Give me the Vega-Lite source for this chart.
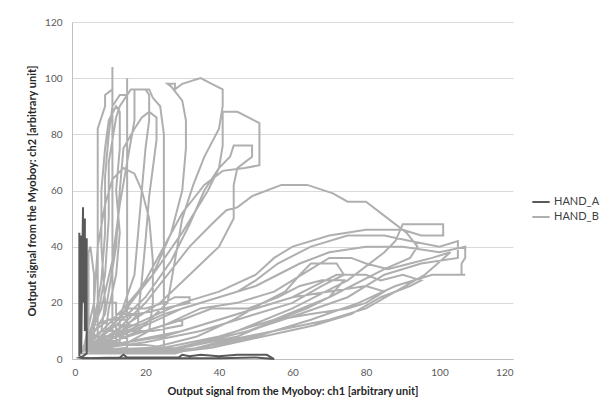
{
  "$schema": "https://vega.github.io/schema/vega-lite/v6.json",
  "width": 441,
  "height": 337,
  "autosize": {"type": "none"},
  "padding": {"left": 72, "top": 22, "right": 92, "bottom": 49},
  "background": "white",
  "config": {
    "view": {"stroke": null},
    "font": "Lato",
    "axis": {"labelFont": "Lato", "titleFont": "Lato", "labelColor": "#595959", "titleColor": "#262626", "labelFontSize": 10, "titleFontSize": 11, "titleFontWeight": "bold", "ticks": false, "domainColor": "#bfbfbf", "gridColor": "#d9d9d9"},
    "legend": {"labelFont": "Lato", "labelFontSize": 11, "labelColor": "#404040"}
  },
  "data": {"values": [
    {"s":"HAND_A","x":2,"y":1},{"s":"HAND_A","x":2,"y":45},{"s":"HAND_A","x":2,"y":5},{"s":"HAND_A","x":2.5,"y":44},{"s":"HAND_A","x":2.5,"y":2},{"s":"HAND_A","x":3,"y":54},{"s":"HAND_A","x":3,"y":20},{"s":"HAND_A","x":3,"y":48},{"s":"HAND_A","x":3.5,"y":50},{"s":"HAND_A","x":3.5,"y":10},{"s":"HAND_A","x":4,"y":43},{"s":"HAND_A","x":4,"y":36},{"s":"HAND_A","x":4,"y":2},{"s":"HAND_A","x":3,"y":1},{"s":"HAND_A","x":2,"y":0.5},{"s":"HAND_A","x":3,"y":0.3},{"s":"HAND_A","x":13,"y":0.5},{"s":"HAND_A","x":14,"y":1.5},{"s":"HAND_A","x":15,"y":0.5},{"s":"HAND_A","x":29,"y":0.5},{"s":"HAND_A","x":30,"y":1.5},{"s":"HAND_A","x":32,"y":1},{"s":"HAND_A","x":35,"y":1.5},{"s":"HAND_A","x":40,"y":1},{"s":"HAND_A","x":45,"y":1.5},{"s":"HAND_A","x":50,"y":1.5},{"s":"HAND_A","x":53,"y":1.5},{"s":"HAND_A","x":55,"y":0},{"s":"HAND_A","x":50,"y":0.5},{"s":"HAND_A","x":40,"y":0.3},{"s":"HAND_A","x":30,"y":0.3},{"s":"HAND_A","x":20,"y":0.3},{"s":"HAND_A","x":5,"y":0.3},{"s":"HAND_A","x":2,"y":0.5},

    {"s":"HAND_B","x":3,"y":3},{"s":"HAND_B","x":5,"y":10},{"s":"HAND_B","x":7,"y":20},{"s":"HAND_B","x":7,"y":50},{"s":"HAND_B","x":7,"y":82},{"s":"HAND_B","x":9,"y":90},{"s":"HAND_B","x":9,"y":94},{"s":"HAND_B","x":11,"y":96},{"s":"HAND_B","x":11,"y":104},{"s":"HAND_B","x":11,"y":92},{"s":"HAND_B","x":11,"y":70},{"s":"HAND_B","x":11,"y":50},{"s":"HAND_B","x":11,"y":30},{"s":"HAND_B","x":11,"y":12},{"s":"HAND_B","x":11,"y":4},{"s":"HAND_B","x":6,"y":3},
    {"s":"HAND_B","x":3,"y":3},{"s":"HAND_B","x":6,"y":12},{"s":"HAND_B","x":8,"y":28},{"s":"HAND_B","x":9,"y":45},{"s":"HAND_B","x":9,"y":65},{"s":"HAND_B","x":10,"y":80},{"s":"HAND_B","x":11,"y":90},{"s":"HAND_B","x":13,"y":94},{"s":"HAND_B","x":15,"y":94},{"s":"HAND_B","x":15,"y":100},{"s":"HAND_B","x":15,"y":92},{"s":"HAND_B","x":15,"y":70},{"s":"HAND_B","x":15,"y":50},{"s":"HAND_B","x":15,"y":30},{"s":"HAND_B","x":15,"y":12},{"s":"HAND_B","x":15,"y":4},{"s":"HAND_B","x":8,"y":3},
    {"s":"HAND_B","x":3,"y":3},{"s":"HAND_B","x":7,"y":15},{"s":"HAND_B","x":9,"y":30},{"s":"HAND_B","x":10,"y":50},{"s":"HAND_B","x":10,"y":70},{"s":"HAND_B","x":12,"y":86},{"s":"HAND_B","x":13,"y":90},{"s":"HAND_B","x":16,"y":96},{"s":"HAND_B","x":21,"y":96},{"s":"HAND_B","x":22,"y":93},{"s":"HAND_B","x":24,"y":90},{"s":"HAND_B","x":25,"y":80},{"s":"HAND_B","x":25,"y":65},{"s":"HAND_B","x":25,"y":45},{"s":"HAND_B","x":25,"y":30},{"s":"HAND_B","x":25,"y":15},{"s":"HAND_B","x":25,"y":4},{"s":"HAND_B","x":15,"y":3},
    {"s":"HAND_B","x":3,"y":3},{"s":"HAND_B","x":8,"y":18},{"s":"HAND_B","x":11,"y":35},{"s":"HAND_B","x":13,"y":55},{"s":"HAND_B","x":15,"y":70},{"s":"HAND_B","x":17,"y":85},{"s":"HAND_B","x":17,"y":96},{"s":"HAND_B","x":20,"y":96},{"s":"HAND_B","x":21,"y":94},{"s":"HAND_B","x":21,"y":85},{"s":"HAND_B","x":20,"y":75},{"s":"HAND_B","x":19,"y":60},{"s":"HAND_B","x":18,"y":45},{"s":"HAND_B","x":17,"y":30},{"s":"HAND_B","x":13,"y":15},{"s":"HAND_B","x":13,"y":6},{"s":"HAND_B","x":8,"y":4},
    {"s":"HAND_B","x":3,"y":3},{"s":"HAND_B","x":6,"y":20},{"s":"HAND_B","x":7,"y":40},{"s":"HAND_B","x":9,"y":55},{"s":"HAND_B","x":11,"y":64},{"s":"HAND_B","x":14,"y":68},{"s":"HAND_B","x":17,"y":66},{"s":"HAND_B","x":19,"y":60},{"s":"HAND_B","x":21,"y":50},{"s":"HAND_B","x":22,"y":35},{"s":"HAND_B","x":22,"y":20},{"s":"HAND_B","x":21,"y":10},{"s":"HAND_B","x":14,"y":5},{"s":"HAND_B","x":5,"y":3},
    {"s":"HAND_B","x":3,"y":3},{"s":"HAND_B","x":9,"y":16},{"s":"HAND_B","x":12,"y":40},{"s":"HAND_B","x":13,"y":60},{"s":"HAND_B","x":14,"y":75},{"s":"HAND_B","x":17,"y":82},{"s":"HAND_B","x":19,"y":86},{"s":"HAND_B","x":21,"y":88},{"s":"HAND_B","x":23,"y":86},{"s":"HAND_B","x":23,"y":78},{"s":"HAND_B","x":22,"y":68},{"s":"HAND_B","x":21,"y":58},{"s":"HAND_B","x":20,"y":42},{"s":"HAND_B","x":19,"y":28},{"s":"HAND_B","x":18,"y":16},{"s":"HAND_B","x":12,"y":8},
    {"s":"HAND_B","x":3,"y":3},{"s":"HAND_B","x":8,"y":10},{"s":"HAND_B","x":9,"y":20},{"s":"HAND_B","x":8,"y":40},{"s":"HAND_B","x":8,"y":60},{"s":"HAND_B","x":9,"y":75},{"s":"HAND_B","x":10,"y":85},{"s":"HAND_B","x":12,"y":90},{"s":"HAND_B","x":13,"y":88},{"s":"HAND_B","x":13,"y":75},{"s":"HAND_B","x":12,"y":60},{"s":"HAND_B","x":13,"y":45},{"s":"HAND_B","x":12,"y":30},{"s":"HAND_B","x":10,"y":18},{"s":"HAND_B","x":9,"y":8},
    {"s":"HAND_B","x":3,"y":3},{"s":"HAND_B","x":4.5,"y":10},{"s":"HAND_B","x":4.5,"y":38},{"s":"HAND_B","x":5,"y":40},{"s":"HAND_B","x":6,"y":30},{"s":"HAND_B","x":6,"y":8},
    {"s":"HAND_B","x":3,"y":3},{"s":"HAND_B","x":10,"y":10},{"s":"HAND_B","x":16,"y":20},{"s":"HAND_B","x":22,"y":30},{"s":"HAND_B","x":27,"y":45},{"s":"HAND_B","x":30,"y":60},{"s":"HAND_B","x":31,"y":75},{"s":"HAND_B","x":31,"y":85},{"s":"HAND_B","x":30,"y":92},{"s":"HAND_B","x":27,"y":97},{"s":"HAND_B","x":26,"y":98},{"s":"HAND_B","x":28,"y":98},{"s":"HAND_B","x":28,"y":96},{"s":"HAND_B","x":30,"y":98},{"s":"HAND_B","x":35,"y":100},{"s":"HAND_B","x":38,"y":98},{"s":"HAND_B","x":41,"y":96},{"s":"HAND_B","x":41,"y":90},{"s":"HAND_B","x":40,"y":82},{"s":"HAND_B","x":36,"y":72},{"s":"HAND_B","x":33,"y":62},{"s":"HAND_B","x":30,"y":50},{"s":"HAND_B","x":28,"y":35},{"s":"HAND_B","x":26,"y":20},{"s":"HAND_B","x":18,"y":10},{"s":"HAND_B","x":8,"y":4},
    {"s":"HAND_B","x":3,"y":3},{"s":"HAND_B","x":12,"y":12},{"s":"HAND_B","x":20,"y":22},{"s":"HAND_B","x":27,"y":35},{"s":"HAND_B","x":32,"y":48},{"s":"HAND_B","x":36,"y":60},{"s":"HAND_B","x":40,"y":68},{"s":"HAND_B","x":41,"y":76},{"s":"HAND_B","x":41,"y":86},{"s":"HAND_B","x":41,"y":88},{"s":"HAND_B","x":45,"y":88},{"s":"HAND_B","x":48,"y":86},{"s":"HAND_B","x":51,"y":84},{"s":"HAND_B","x":51,"y":69},{"s":"HAND_B","x":47,"y":68},{"s":"HAND_B","x":41,"y":67},{"s":"HAND_B","x":36,"y":62},{"s":"HAND_B","x":30,"y":52},{"s":"HAND_B","x":25,"y":40},{"s":"HAND_B","x":20,"y":28},{"s":"HAND_B","x":14,"y":16},{"s":"HAND_B","x":6,"y":6},
    {"s":"HAND_B","x":3,"y":3},{"s":"HAND_B","x":14,"y":18},{"s":"HAND_B","x":22,"y":30},{"s":"HAND_B","x":30,"y":45},{"s":"HAND_B","x":37,"y":60},{"s":"HAND_B","x":40,"y":68},{"s":"HAND_B","x":43,"y":72},{"s":"HAND_B","x":44,"y":76},{"s":"HAND_B","x":49,"y":76},{"s":"HAND_B","x":49,"y":72},{"s":"HAND_B","x":47,"y":70},{"s":"HAND_B","x":45,"y":68},{"s":"HAND_B","x":44,"y":62},{"s":"HAND_B","x":44,"y":50},{"s":"HAND_B","x":40,"y":40},{"s":"HAND_B","x":32,"y":30},{"s":"HAND_B","x":24,"y":20},{"s":"HAND_B","x":12,"y":10},
    {"s":"HAND_B","x":3,"y":3},{"s":"HAND_B","x":12,"y":10},{"s":"HAND_B","x":20,"y":20},{"s":"HAND_B","x":26,"y":30},{"s":"HAND_B","x":32,"y":40},{"s":"HAND_B","x":38,"y":48},{"s":"HAND_B","x":42,"y":53},{"s":"HAND_B","x":45,"y":54},{"s":"HAND_B","x":49,"y":58},{"s":"HAND_B","x":53,"y":60},{"s":"HAND_B","x":57,"y":62},{"s":"HAND_B","x":64,"y":62},{"s":"HAND_B","x":71,"y":59},{"s":"HAND_B","x":75,"y":56},{"s":"HAND_B","x":80,"y":56},{"s":"HAND_B","x":86,"y":50},{"s":"HAND_B","x":91,"y":45},{"s":"HAND_B","x":94,"y":40},{"s":"HAND_B","x":92,"y":36},{"s":"HAND_B","x":85,"y":32},{"s":"HAND_B","x":70,"y":22},{"s":"HAND_B","x":55,"y":14},{"s":"HAND_B","x":40,"y":8},{"s":"HAND_B","x":25,"y":4},{"s":"HAND_B","x":10,"y":2},
    {"s":"HAND_B","x":3,"y":3},{"s":"HAND_B","x":10,"y":8},{"s":"HAND_B","x":20,"y":14},{"s":"HAND_B","x":30,"y":20},{"s":"HAND_B","x":40,"y":24},{"s":"HAND_B","x":50,"y":30},{"s":"HAND_B","x":55,"y":36},{"s":"HAND_B","x":60,"y":40},{"s":"HAND_B","x":70,"y":44},{"s":"HAND_B","x":80,"y":46},{"s":"HAND_B","x":90,"y":46},{"s":"HAND_B","x":95,"y":44},{"s":"HAND_B","x":101,"y":44},{"s":"HAND_B","x":101,"y":48},{"s":"HAND_B","x":90,"y":48},{"s":"HAND_B","x":88,"y":42},{"s":"HAND_B","x":85,"y":38},{"s":"HAND_B","x":75,"y":28},{"s":"HAND_B","x":60,"y":18},{"s":"HAND_B","x":45,"y":10},{"s":"HAND_B","x":30,"y":4},{"s":"HAND_B","x":15,"y":2},
    {"s":"HAND_B","x":3,"y":3},{"s":"HAND_B","x":15,"y":10},{"s":"HAND_B","x":25,"y":16},{"s":"HAND_B","x":35,"y":20},{"s":"HAND_B","x":45,"y":24},{"s":"HAND_B","x":50,"y":28},{"s":"HAND_B","x":56,"y":34},{"s":"HAND_B","x":65,"y":40},{"s":"HAND_B","x":75,"y":44},{"s":"HAND_B","x":85,"y":44},{"s":"HAND_B","x":92,"y":42},{"s":"HAND_B","x":100,"y":40},{"s":"HAND_B","x":105,"y":42},{"s":"HAND_B","x":105,"y":36},{"s":"HAND_B","x":95,"y":34},{"s":"HAND_B","x":85,"y":30},{"s":"HAND_B","x":75,"y":22},{"s":"HAND_B","x":62,"y":16},{"s":"HAND_B","x":48,"y":10},{"s":"HAND_B","x":35,"y":6},{"s":"HAND_B","x":22,"y":2},
    {"s":"HAND_B","x":3,"y":3},{"s":"HAND_B","x":20,"y":12},{"s":"HAND_B","x":30,"y":18},{"s":"HAND_B","x":40,"y":22},{"s":"HAND_B","x":50,"y":26},{"s":"HAND_B","x":56,"y":30},{"s":"HAND_B","x":62,"y":34},{"s":"HAND_B","x":70,"y":38},{"s":"HAND_B","x":80,"y":40},{"s":"HAND_B","x":90,"y":40},{"s":"HAND_B","x":100,"y":38},{"s":"HAND_B","x":107,"y":40},{"s":"HAND_B","x":107,"y":36},{"s":"HAND_B","x":106,"y":34},{"s":"HAND_B","x":106,"y":30},{"s":"HAND_B","x":107,"y":30},{"s":"HAND_B","x":98,"y":30},{"s":"HAND_B","x":88,"y":26},{"s":"HAND_B","x":78,"y":20},{"s":"HAND_B","x":65,"y":14},{"s":"HAND_B","x":50,"y":8},{"s":"HAND_B","x":35,"y":4},{"s":"HAND_B","x":20,"y":2},
    {"s":"HAND_B","x":3,"y":3},{"s":"HAND_B","x":25,"y":12},{"s":"HAND_B","x":35,"y":18},{"s":"HAND_B","x":45,"y":20},{"s":"HAND_B","x":55,"y":24},{"s":"HAND_B","x":60,"y":28},{"s":"HAND_B","x":65,"y":32},{"s":"HAND_B","x":70,"y":36},{"s":"HAND_B","x":76,"y":36},{"s":"HAND_B","x":80,"y":34},{"s":"HAND_B","x":86,"y":32},{"s":"HAND_B","x":92,"y":34},{"s":"HAND_B","x":98,"y":36},{"s":"HAND_B","x":103,"y":38},{"s":"HAND_B","x":96,"y":30},{"s":"HAND_B","x":88,"y":24},{"s":"HAND_B","x":80,"y":18},{"s":"HAND_B","x":70,"y":14},{"s":"HAND_B","x":55,"y":10},{"s":"HAND_B","x":40,"y":6},{"s":"HAND_B","x":28,"y":2},
    {"s":"HAND_B","x":3,"y":3},{"s":"HAND_B","x":30,"y":10},{"s":"HAND_B","x":40,"y":14},{"s":"HAND_B","x":50,"y":18},{"s":"HAND_B","x":60,"y":22},{"s":"HAND_B","x":66,"y":26},{"s":"HAND_B","x":72,"y":30},{"s":"HAND_B","x":80,"y":30},{"s":"HAND_B","x":84,"y":28},{"s":"HAND_B","x":90,"y":30},{"s":"HAND_B","x":95,"y":28},{"s":"HAND_B","x":92,"y":26},{"s":"HAND_B","x":84,"y":22},{"s":"HAND_B","x":76,"y":16},{"s":"HAND_B","x":66,"y":12},{"s":"HAND_B","x":52,"y":8},{"s":"HAND_B","x":38,"y":4},{"s":"HAND_B","x":25,"y":2},
    {"s":"HAND_B","x":3,"y":3},{"s":"HAND_B","x":20,"y":6},{"s":"HAND_B","x":35,"y":10},{"s":"HAND_B","x":50,"y":16},{"s":"HAND_B","x":60,"y":20},{"s":"HAND_B","x":68,"y":26},{"s":"HAND_B","x":74,"y":30},{"s":"HAND_B","x":72,"y":34},{"s":"HAND_B","x":65,"y":34},{"s":"HAND_B","x":62,"y":30},{"s":"HAND_B","x":58,"y":24},{"s":"HAND_B","x":52,"y":20},{"s":"HAND_B","x":44,"y":14},{"s":"HAND_B","x":34,"y":8},{"s":"HAND_B","x":22,"y":4},
    {"s":"HAND_B","x":3,"y":3},{"s":"HAND_B","x":10,"y":6},{"s":"HAND_B","x":20,"y":10},{"s":"HAND_B","x":30,"y":14},{"s":"HAND_B","x":38,"y":18},{"s":"HAND_B","x":48,"y":18},{"s":"HAND_B","x":56,"y":22},{"s":"HAND_B","x":62,"y":26},{"s":"HAND_B","x":68,"y":28},{"s":"HAND_B","x":74,"y":28},{"s":"HAND_B","x":70,"y":22},{"s":"HAND_B","x":64,"y":18},{"s":"HAND_B","x":56,"y":14},{"s":"HAND_B","x":48,"y":10},{"s":"HAND_B","x":36,"y":6},{"s":"HAND_B","x":22,"y":2},
    {"s":"HAND_B","x":3,"y":3},{"s":"HAND_B","x":15,"y":6},{"s":"HAND_B","x":25,"y":8},{"s":"HAND_B","x":35,"y":12},{"s":"HAND_B","x":45,"y":16},{"s":"HAND_B","x":55,"y":20},{"s":"HAND_B","x":60,"y":22},{"s":"HAND_B","x":70,"y":24},{"s":"HAND_B","x":80,"y":26},{"s":"HAND_B","x":85,"y":24},{"s":"HAND_B","x":80,"y":20},{"s":"HAND_B","x":75,"y":18},{"s":"HAND_B","x":65,"y":16},{"s":"HAND_B","x":56,"y":14},{"s":"HAND_B","x":45,"y":8},{"s":"HAND_B","x":30,"y":4},
    {"s":"HAND_B","x":2,"y":2},{"s":"HAND_B","x":10,"y":2},{"s":"HAND_B","x":20,"y":2},{"s":"HAND_B","x":26,"y":2},{"s":"HAND_B","x":26,"y":4},{"s":"HAND_B","x":20,"y":5},{"s":"HAND_B","x":10,"y":5},{"s":"HAND_B","x":5,"y":5},
    {"s":"HAND_B","x":3,"y":3},{"s":"HAND_B","x":5,"y":8},{"s":"HAND_B","x":10,"y":8},{"s":"HAND_B","x":15,"y":8},{"s":"HAND_B","x":20,"y":10},{"s":"HAND_B","x":25,"y":12},{"s":"HAND_B","x":30,"y":14},{"s":"HAND_B","x":30,"y":12},{"s":"HAND_B","x":22,"y":10},{"s":"HAND_B","x":16,"y":10},{"s":"HAND_B","x":8,"y":10},{"s":"HAND_B","x":4,"y":6},
    {"s":"HAND_B","x":3,"y":4},{"s":"HAND_B","x":6,"y":12},{"s":"HAND_B","x":10,"y":14},{"s":"HAND_B","x":15,"y":14},{"s":"HAND_B","x":15,"y":18},{"s":"HAND_B","x":20,"y":18},{"s":"HAND_B","x":25,"y":20},{"s":"HAND_B","x":28,"y":22},{"s":"HAND_B","x":32,"y":22},{"s":"HAND_B","x":32,"y":20},{"s":"HAND_B","x":25,"y":18},{"s":"HAND_B","x":18,"y":16},{"s":"HAND_B","x":10,"y":14},{"s":"HAND_B","x":6,"y":10},
    {"s":"HAND_B","x":3,"y":3},{"s":"HAND_B","x":7,"y":6},{"s":"HAND_B","x":7,"y":20},{"s":"HAND_B","x":12,"y":20},{"s":"HAND_B","x":12,"y":16},{"s":"HAND_B","x":18,"y":16},{"s":"HAND_B","x":18,"y":12},{"s":"HAND_B","x":12,"y":12},{"s":"HAND_B","x":12,"y":6},{"s":"HAND_B","x":7,"y":3},{"s":"HAND_B","x":3,"y":3}
  ]},
  "encoding": {
    "x": {"field": "x", "type": "quantitative", "scale": {"domain": [0, 120], "nice": false}, "axis": {"values": [0,20,40,60,80,100,120], "grid": false, "labelPadding": 8, "titlePadding": 8, "title": "Output signal from the Myoboy: ch1 [arbitrary unit]"}},
    "y": {"field": "y", "type": "quantitative", "scale": {"domain": [0, 120], "nice": false}, "axis": {"values": [0,20,40,60,80,100,120], "grid": true, "labelPadding": 10, "titlePadding": 7, "title": "Output signal from the Myoboy: ch2 [arbitrary unit]"}},
    "color": {"field": "s", "type": "nominal", "scale": {"domain": ["HAND_A", "HAND_B"], "range": ["#595959", "#afafaf"]}, "legend": {"title": null, "orient": "none", "legendX": 459, "legendY": 170, "symbolType": "stroke", "symbolSize": 300, "symbolStrokeWidth": 2, "rowPadding": 0, "labelOffset": 3}},
    "order": {"value": null}
  },
  "layer": [
    {"transform": [{"filter": "datum.s === 'HAND_B'"}], "mark": {"type": "line", "strokeWidth": 2, "strokeJoin": "miter", "interpolate": "linear"}},
    {"transform": [{"filter": "datum.s === 'HAND_A'"}], "mark": {"type": "line", "strokeWidth": 2, "strokeJoin": "miter", "interpolate": "linear"}}
  ]
}
